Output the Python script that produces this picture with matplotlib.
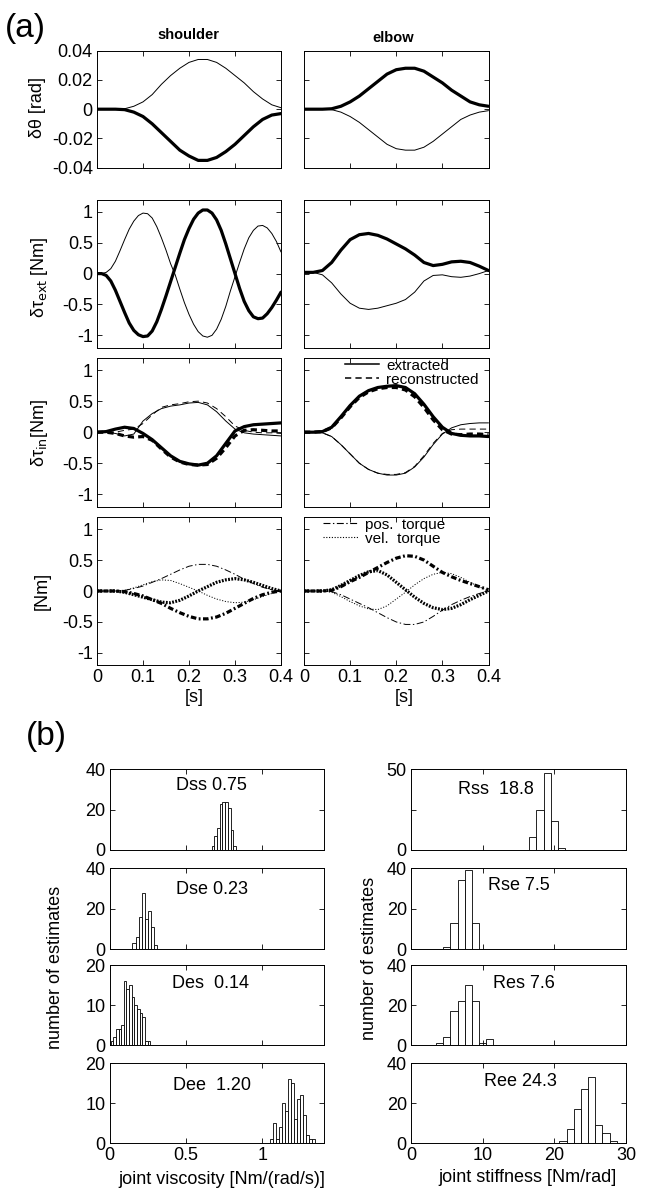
import matplotlib
matplotlib.use('Agg')
import matplotlib.pyplot as plt
from matplotlib.lines import Line2D

W, H = 648, 1199

plt.rcParams['font.family'] = ['Liberation Sans', 'DejaVu Sans']
plt.rcParams['axes.unicode_minus'] = False
plt.rcParams['lines.scale_dashes'] = False

# ---- (a) time courses, sampled every 0.02 s ----
t_s = [0.00, 0.02, 0.04, 0.06, 0.08, 0.10, 0.12, 0.14, 0.16, 0.18, 0.20,
       0.22, 0.24, 0.26, 0.28, 0.30, 0.32, 0.34, 0.36, 0.38, 0.40]
# finer sampling (0.01 s) for the fast shoulder torque swings
t_f = [0.00, 0.01, 0.02, 0.03, 0.04, 0.05, 0.06, 0.07, 0.08, 0.09, 0.10,
       0.11, 0.12, 0.13, 0.14, 0.15, 0.16, 0.17, 0.18, 0.19, 0.20,
       0.21, 0.22, 0.23, 0.24, 0.25, 0.26, 0.27, 0.28, 0.29, 0.30,
       0.31, 0.32, 0.33, 0.34, 0.35, 0.36, 0.37, 0.38, 0.39, 0.40]

# row 1: joint angle deviation [rad]
sh_theta_thin = [0, 0, 0, 0.0003, 0.002, 0.005, 0.010, 0.017, 0.023, 0.028, 0.032,
                 0.034, 0.034, 0.032, 0.028, 0.023, 0.018, 0.012, 0.007, 0.003, 0.001]
sh_theta_thick = [0, 0, 0, -0.0003, -0.002, -0.005, -0.010, -0.016, -0.022, -0.028, -0.032,
                  -0.035, -0.035, -0.033, -0.029, -0.024, -0.018, -0.012, -0.007, -0.004, -0.003]
el_theta_thick = [0, 0, 0, 0.0003, 0.002, 0.005, 0.009, 0.014, 0.019, 0.024, 0.027,
                  0.028, 0.028, 0.026, 0.022, 0.018, 0.013, 0.009, 0.005, 0.003, 0.002]
el_theta_thin = [0, 0, 0, -0.0003, -0.002, -0.005, -0.009, -0.014, -0.019, -0.024, -0.027,
                 -0.028, -0.028, -0.026, -0.022, -0.017, -0.012, -0.007, -0.004, -0.002, -0.001]

# row 2: external torque [Nm]
sh_ext_thin = [0, 0.0, 0.02, 0.08, 0.2, 0.37, 0.55, 0.72, 0.85, 0.94, 0.98,
               0.97, 0.9, 0.76, 0.58, 0.38, 0.16, -0.02, -0.25, -0.47, -0.66,
               -0.82, -0.94, -1.01, -1.03, -1.0, -0.9, -0.74, -0.53, -0.28, -0.05,
               0.18, 0.4, 0.58, 0.7, 0.77, 0.78, 0.74, 0.65, 0.52, 0.35]
sh_ext_thick = [0, 0, -0.03, -0.12, -0.27, -0.45, -0.63, -0.8, -0.92, -0.99, -1.02,
                -1.01, -0.93, -0.78, -0.58, -0.36, -0.13, 0.1, 0.33, 0.55, 0.73,
                0.88, 0.98, 1.03, 1.03, 0.98, 0.87, 0.7, 0.48, 0.24, 0.0,
                -0.24, -0.45, -0.6, -0.7, -0.73, -0.72, -0.65, -0.55, -0.43, -0.3]
el_ext_thick = [0.02, 0.02, 0.05, 0.18, 0.38, 0.55, 0.63, 0.65, 0.62, 0.56, 0.48,
                0.4, 0.3, 0.18, 0.13, 0.15, 0.19, 0.2, 0.18, 0.12, 0.05]
el_ext_thin = [0.02, 0.02, -0.02, -0.15, -0.33, -0.48, -0.56, -0.58, -0.56, -0.52, -0.48,
               -0.42, -0.3, -0.12, -0.03, -0.02, -0.05, -0.06, -0.04, 0.0, 0.05]

# row 3: internal torque, extracted vs reconstructed [Nm]
sh_in_ext_thin = [0, 0, -0.02, -0.06, -0.03, 0.18, 0.3, 0.38, 0.42, 0.44, 0.47,
                  0.48, 0.44, 0.33, 0.18, 0.05, -0.01, -0.03, -0.04, -0.05, -0.06]
sh_in_rec_thin = [0, 0, 0.0, 0.03, 0.05, 0.14, 0.28, 0.4, 0.44, 0.46, 0.49,
                  0.5, 0.47, 0.38, 0.25, 0.1, 0.03, 0.0, -0.01, -0.01, -0.02]
sh_in_ext_thick = [0, 0.01, 0.05, 0.08, 0.06, -0.02, -0.12, -0.25, -0.38, -0.47, -0.51,
                   -0.53, -0.5, -0.38, -0.18, 0.02, 0.09, 0.12, 0.13, 0.14, 0.15]
sh_in_rec_thick = [0, 0, -0.02, -0.06, -0.08, -0.07, -0.13, -0.27, -0.4, -0.48, -0.52,
                   -0.53, -0.52, -0.42, -0.25, -0.06, 0.03, 0.04, 0.03, 0.02, 0.02]
el_in_ext_thick = [0, 0, 0.01, 0.08, 0.25, 0.43, 0.58, 0.67, 0.72, 0.74, 0.75,
                   0.72, 0.62, 0.45, 0.25, 0.08, -0.02, -0.05, -0.06, -0.06, -0.07]
el_in_rec_thick = [0, 0, 0.01, 0.07, 0.23, 0.41, 0.56, 0.65, 0.7, 0.72, 0.72,
                   0.68, 0.57, 0.4, 0.2, 0.04, -0.03, -0.04, -0.03, -0.03, -0.04]
el_in_ext_thin = [0, 0, -0.01, -0.07, -0.2, -0.35, -0.5, -0.6, -0.66, -0.69, -0.69,
                  -0.66, -0.56, -0.4, -0.2, -0.03, 0.07, 0.12, 0.14, 0.15, 0.15]
el_in_rec_thin = [0, 0, -0.01, -0.07, -0.2, -0.35, -0.5, -0.6, -0.66, -0.68, -0.68,
                  -0.65, -0.55, -0.38, -0.18, -0.02, 0.04, 0.05, 0.05, 0.05, 0.05]

# row 4: position and velocity torque components [Nm]
sh_pos_thin = [0, 0, 0, 0.01, 0.04, 0.08, 0.14, 0.2, 0.27, 0.34, 0.4,
               0.43, 0.43, 0.4, 0.34, 0.27, 0.19, 0.12, 0.06, 0.02, 0.0]
sh_pos_thick = [0, 0, 0, -0.01, -0.04, -0.08, -0.14, -0.2, -0.28, -0.35, -0.41,
                -0.45, -0.45, -0.42, -0.36, -0.28, -0.2, -0.12, -0.06, -0.02, 0.0]
sh_vel_thin = [0, 0, 0, 0.01, 0.05, 0.1, 0.15, 0.18, 0.17, 0.12, 0.06,
               0.0, -0.07, -0.13, -0.17, -0.19, -0.18, -0.14, -0.09, -0.04, 0.0]
sh_vel_thick = [0, 0, 0, -0.02, -0.06, -0.1, -0.14, -0.18, -0.19, -0.15, -0.08,
                0.0, 0.07, 0.14, 0.18, 0.2, 0.18, 0.14, 0.09, 0.04, 0.0]
el_pos_thick = [0, 0, 0, 0.01, 0.07, 0.15, 0.22, 0.3, 0.38, 0.46, 0.53,
                0.57, 0.56, 0.5, 0.4, 0.3, 0.23, 0.17, 0.12, 0.07, 0.02]
el_pos_thin = [0, 0, 0, -0.01, -0.06, -0.13, -0.2, -0.27, -0.35, -0.43, -0.5,
               -0.54, -0.54, -0.5, -0.41, -0.31, -0.22, -0.15, -0.09, -0.04, 0.0]
el_vel_thick = [0, 0, 0, 0.02, 0.09, 0.17, 0.25, 0.31, 0.33, 0.26, 0.14,
                0.02, -0.1, -0.2, -0.27, -0.3, -0.28, -0.22, -0.14, -0.07, 0.0]
el_vel_thin = [0, 0, 0, -0.02, -0.09, -0.17, -0.24, -0.29, -0.3, -0.24, -0.13,
               -0.02, 0.1, 0.2, 0.27, 0.3, 0.28, 0.22, 0.14, 0.07, 0.0]

# ---- (b) histograms of estimates ----
dss_counts = [2, 7, 11, 23, 24, 24, 21, 10, 2]
dss_range = (0.667, 0.827)
dse_counts = [3, 6, 16, 28, 15, 19, 11, 2]
dse_range = (0.149, 0.309)
des_counts = [1, 2, 4, 4, 5, 16, 14, 15, 12, 10, 9, 8, 7, 1, 1]
des_range = (0.006, 0.266)
dee_counts = [1, 5, 1, 4, 10, 8, 16, 15, 6, 11, 12, 7, 2, 1, 1]
dee_range = (1.049, 1.343)

rss_counts = [8, 25, 48, 18, 1]
rss_range = (16.5, 21.5)
rse_counts = [1, 13, 34, 39, 13]
rse_range = (4.5, 9.5)
res_counts = [1, 4, 17, 22, 30, 22, 1, 3]
res_range = (3.5, 11.5)
ree_counts = [1, 7, 17, 27, 33, 9, 5, 1]
ree_range = (20.7, 28.7)

visc_ticks = [0, 0.5, 1]
visc_ticklabels = ['0', '0.5', '1']
stiff_ticks = [0, 10, 20, 30]

fig = plt.figure(figsize=(W / 100, H / 100), dpi=100)


def add_ax(x0, x1, y0, y1):
    return fig.add_axes([x0 / W, 1 - y1 / H, (x1 - x0) / W, (y1 - y0) / H])


def px_text(x, y, s, **kw):
    fig.text(x / W, 1 - y / H, s, ha='center', va='center', **kw)


def box(ax, size=13):
    ax.tick_params(direction='in', top=True, right=True, length=3.5, width=0.6,
                   labelsize=size, pad=3)
    for sp in ax.spines.values():
        sp.set_linewidth(0.7)


THIN = 0.7
THICK = 2.3
dash = (0, (4.5, 3))
dashdot_thin = (0, (5, 1.8, 1, 1.8))
dashdot_thick = (0, (4, 1.8, 1.3, 1.8))
dot_thin = (0, (0.8, 1.2))
dot_thick = (0, (1.3, 1.0))

col_x = [(97, 281), (304, 488.5)]
row_y = [(50.7, 167.7), (199.5, 347.7), (357.7, 506.7), (516.7, 665.3)]

# (time, curve, linewidth, linestyle) per panel
panels = [
    [[(t_s, sh_theta_thin, THIN, '-'), (t_s, sh_theta_thick, THICK, '-')],
     [(t_s, el_theta_thin, THIN, '-'), (t_s, el_theta_thick, THICK, '-')]],
    [[(t_f, sh_ext_thin, THIN, '-'), (t_f, sh_ext_thick, THICK, '-')],
     [(t_s, el_ext_thin, THIN, '-'), (t_s, el_ext_thick, THICK, '-')]],
    [[(t_s, sh_in_ext_thin, THIN, '-'), (t_s, sh_in_rec_thin, THIN, dash),
      (t_s, sh_in_ext_thick, THICK, '-'), (t_s, sh_in_rec_thick, THICK, dash)],
     [(t_s, el_in_ext_thin, THIN, '-'), (t_s, el_in_rec_thin, THIN, dash),
      (t_s, el_in_ext_thick, THICK, '-'), (t_s, el_in_rec_thick, THICK, dash)]],
    [[(t_s, sh_pos_thin, THIN, dashdot_thin), (t_s, sh_pos_thick, THICK, dashdot_thick),
      (t_s, sh_vel_thin, THIN, dot_thin), (t_s, sh_vel_thick, THICK, dot_thick)],
     [(t_s, el_pos_thin, THIN, dashdot_thin), (t_s, el_pos_thick, THICK, dashdot_thick),
      (t_s, el_vel_thin, THIN, dot_thin), (t_s, el_vel_thick, THICK, dot_thick)]],
]

axes_a = {}
for r, (y0, y1) in enumerate(row_y):
    for c, (x0, x1) in enumerate(col_x):
        ax = add_ax(x0, x1, y0, y1)
        box(ax)
        for tt, vals, lw, ls in panels[r][c]:
            ax.plot(tt, vals, color='k', lw=lw, linestyle=ls,
                    solid_capstyle='round', solid_joinstyle='round',
                    dash_capstyle='butt')
        ax.set_xlim(0, 0.4)
        ax.set_xticks([0, 0.1, 0.2, 0.3, 0.4])
        if r == 0:
            ax.set_ylim(-0.04, 0.04)
            ax.set_yticks([-0.04, -0.02, 0, 0.02, 0.04])
            ax.set_yticklabels(['-0.04', '-0.02', '0', '0.02', '0.04'])
        else:
            ax.set_ylim(-1.2, 1.2)
            ax.set_yticks([-1, -0.5, 0, 0.5, 1])
            ax.set_yticklabels(['-1', '-0.5', '0', '0.5', '1'])
        if r < 3:
            ax.set_xticklabels([])
        else:
            ax.set_xticklabels(['0', '0.1', '0.2', '0.3', '0.4'])
        if c == 1:
            ax.set_yticklabels([])
        axes_a[(r, c)] = ax

axes_a[(2, 1)].legend(
    handles=[Line2D([], [], color='k', lw=1.1, ls='-'),
             Line2D([], [], color='k', lw=1.1, ls=(0, (4.5, 3)))],
    labels=['extracted', 'reconstructed'], loc='upper right', frameon=False,
    fontsize=11, handlelength=2.2, handletextpad=0.5, labelspacing=0.0,
    borderaxespad=0.0, borderpad=0.15, bbox_to_anchor=(0.96, 1.01))
axes_a[(3, 1)].legend(
    handles=[Line2D([], [], color='k', lw=0.8, ls=dashdot_thin),
             Line2D([], [], color='k', lw=0.8, ls=dot_thin)],
    labels=['pos.  torque', 'vel.  torque'], loc='upper right', frameon=False,
    fontsize=11, handlelength=2.4, handletextpad=0.4, labelspacing=0.0,
    borderaxespad=0.0, borderpad=0.15, bbox_to_anchor=(0.78, 1.01))

px_text(25, 29, '(a)', fontsize=24)
px_text(188, 35, 'shoulder', fontsize=10.5, fontweight='bold')
px_text(393, 38, 'elbow', fontsize=10.5, fontweight='bold')
px_text(38, 108, 'δθ [rad]', fontsize=13, rotation=90)
px_text(40, 277, r'δτ$_{\mathrm{ext}}$ [Nm]', fontsize=13, rotation=90)
px_text(40, 433, r'δτ$_{\mathrm{in}}$[Nm]', fontsize=13, rotation=90)
px_text(42, 591, '[Nm]', fontsize=13, rotation=90)
px_text(194, 697, '[s]', fontsize=13)
px_text(404, 697, '[s]', fontsize=13)

# ---- (b) ----
hist_y = [(769.3, 850), (868.3, 949.3), (965, 1045), (1063.3, 1143.3)]
left_x = (109.7, 323.5)
right_x = (411, 626)

left_hists = [
    ('Dss 0.75', dss_counts, dss_range, 40, (211, 785)),
    ('Dse 0.23', dse_counts, dse_range, 40, (212, 890)),
    ('Des  0.14', des_counts, des_range, 20, (211, 984)),
    ('Dee  1.20', dee_counts, dee_range, 20, (212, 1085)),
]
right_hists = [
    ('Rss  18.8', rss_counts, rss_range, 50, (496, 789)),
    ('Rse 7.5', rse_counts, rse_range, 40, (519, 886)),
    ('Res 7.6', res_counts, res_range, 40, (524, 984)),
    ('Ree 24.3', ree_counts, ree_range, 40, (520, 1082)),
]


def draw_hist(ax, counts, rng, ymax):
    n = len(counts)
    width = (rng[1] - rng[0]) / n
    lefts = [rng[0] + k * width for k in range(n)]
    ax.bar(lefts, counts, width=width, align='edge', color='white',
           edgecolor='k', linewidth=0.6)
    ax.set_ylim(0, ymax)


for i, (y0, y1) in enumerate(hist_y):
    label, counts, rng, ymax, pos = left_hists[i]
    ax = add_ax(left_x[0], left_x[1], y0, y1)
    box(ax)
    draw_hist(ax, counts, rng, ymax)
    ax.set_xlim(0, 1.4)
    ax.set_xticks(visc_ticks)
    ax.set_yticks([0, ymax / 2, ymax])
    ax.set_yticklabels(['0', str(ymax // 2), str(ymax)])
    if i < 3:
        ax.set_xticklabels([])
    else:
        ax.set_xticklabels(visc_ticklabels)
    px_text(pos[0], pos[1], label, fontsize=13)

    label, counts, rng, ymax, pos = right_hists[i]
    ax = add_ax(right_x[0], right_x[1], y0, y1)
    box(ax)
    draw_hist(ax, counts, rng, ymax)
    ax.set_xlim(0, 30)
    ax.set_xticks(stiff_ticks)
    if ymax == 50:
        ax.set_yticks([0, 25, 50])
        ax.set_yticklabels(['0', '', '50'])
    else:
        ax.set_yticks([0, 20, 40])
        ax.set_yticklabels(['0', '20', '40'])
    if i < 3:
        ax.set_xticklabels([])
    else:
        ax.set_xticklabels([str(v) for v in stiff_ticks])
    px_text(pos[0], pos[1], label, fontsize=13)

px_text(46, 736, '(b)', fontsize=24)
px_text(56, 967, 'number of estimates', fontsize=13, rotation=90)
px_text(370, 958, 'number of estimates', fontsize=13, rotation=90)
px_text(222, 1180, 'joint viscosity [Nm/(rad/s)]', fontsize=13)
px_text(528, 1178, 'joint stiffness [Nm/rad]', fontsize=13)

fig.savefig('out.png', dpi=100)
